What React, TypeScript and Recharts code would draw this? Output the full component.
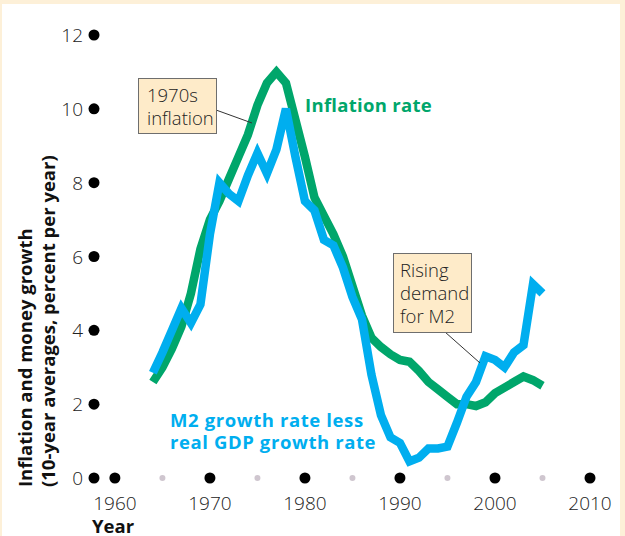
import React from "react";
import { LineChart, Line, XAxis, YAxis } from "recharts";

const years = [
  1964, 1965, 1966, 1967, 1968, 1969, 1970, 1971, 1972, 1973, 1974, 1975, 1976, 1977,
  1978, 1979, 1980, 1981, 1982, 1983, 1984, 1985, 1986, 1987, 1988, 1989, 1990, 1991,
  1992, 1993, 1994, 1995, 1996, 1997, 1998, 1999, 2000, 2001, 2002, 2003, 2004, 2005,
];

const inflationRate = [
  2.6, 3.0, 3.5, 4.1, 5.0, 6.2, 7.0, 7.5, 8.1, 8.7, 9.3, 10.1, 10.7, 11.0,
  10.7, 9.7, 8.7, 7.6, 7.1, 6.6, 6.0, 5.2, 4.4, 3.8, 3.55, 3.35, 3.2, 3.15,
  2.9, 2.6, 2.4, 2.2, 2.0, 2.0, 1.95, 2.05, 2.3, 2.45, 2.6, 2.75, 2.65, 2.5,
];

const m2LessRealGdp = [
  2.85, 3.4, 4.0, 4.6, 4.2, 4.7, 6.6, 8.0, 7.7, 7.5, 8.2, 8.8, 8.25, 8.9,
  10.0, 8.7, 7.5, 7.25, 6.45, 6.3, 5.7, 4.9, 4.3, 2.8, 1.7, 1.1, 0.95, 0.45,
  0.55, 0.8, 0.8, 0.85, 1.5, 2.2, 2.6, 3.3, 3.2, 3.0, 3.4, 3.6, 5.25, 5.0,
];

const yTicks = [0, 2, 4, 6, 8, 10, 12];
const xTicks = [1960, 1965, 1970, 1975, 1980, 1985, 1990, 1995, 2000, 2005, 2010];
const decadeLabels = [1960, 1970, 1980, 1990, 2000, 2010];

const data = years.map((year, i) => ({
  year,
  inflation: inflationRate[i],
  m2: m2LessRealGdp[i],
}));

const GREEN = "#00A66B";
const BLUE = "#00AEEF";
const FONT = "'Open Sans', 'DejaVu Sans', sans-serif";

const YTick = (props: any) => {
  const { x, y, payload } = props;
  return (
    <g>
      <circle cx={x} cy={y} r={5.5} fill="#000" />
      <text x={x - 11} y={y} dy={7} textAnchor="end" fontFamily={FONT} fontWeight={300} fontSize={19} fill="#222">
        {payload.value}
      </text>
    </g>
  );
};

const XTick = (props: any) => {
  const { x, y, payload } = props;
  const isDecade = decadeLabels.includes(payload.value);
  return (
    <g>
      {isDecade ? (
        <circle cx={x} cy={y} r={5.5} fill="#000" />
      ) : (
        <circle cx={x} cy={y} r={3} fill="#CFC6CF" />
      )}
      {isDecade && (
        <text x={x} y={y + 32} textAnchor="middle" fontFamily={FONT} fontWeight={300} fontSize={19} fill="#222">
          {payload.value}
        </text>
      )}
    </g>
  );
};

export default function App() {
  return (
    <div style={{ position: "absolute", left: 0, top: 0, width: 625, height: 536, background: "#FDF0D8", overflow: "hidden" }}>
      <div style={{ position: "absolute", left: 2, top: 4, width: 618, height: 532, background: "#FFFFFF" }} />
      <div style={{ position: "absolute", left: 0, top: 0 }}>
        <LineChart width={625} height={536} data={data} margin={{ top: 35, right: 16, bottom: 0, left: 0 }}>
          <XAxis
            type="number"
            dataKey="year"
            domain={[1957.8, 2012]}
            ticks={xTicks}
            axisLine={false}
            tickLine={false}
            tickSize={0}
            tickMargin={0}
            height={58}
            tick={<XTick />}
            interval={0}
          />
          <YAxis
            type="number"
            domain={[0, 12]}
            ticks={yTicks}
            axisLine={false}
            tickLine={false}
            tickSize={0}
            tickMargin={0}
            width={94}
            tick={<YTick />}
            interval={0}
          />
          <Line
            type="linear"
            dataKey="inflation"
            stroke={GREEN}
            strokeWidth={8.5}
            dot={false}
            activeDot={false}
            strokeLinejoin="miter"
            isAnimationActive={false}
          />
          <Line
            type="linear"
            dataKey="m2"
            stroke={BLUE}
            strokeWidth={8.5}
            dot={false}
            activeDot={false}
            strokeLinejoin="miter"
            isAnimationActive={false}
          />
        </LineChart>
      </div>
      <svg width={625} height={536} style={{ position: "absolute", left: 0, top: 0, pointerEvents: "none" }}>
        {/* Y axis title */}
        <g fontFamily={FONT} fontWeight={700} fontSize={18.5} fill="#111">
          <text transform="translate(32,487) rotate(-90)" textAnchor="start">Inflation and money growth</text>
          <text transform="translate(55,487) rotate(-90)" textAnchor="start">(10-year averages, percent per year)</text>
        </g>
        <text x={92} y={533} fontFamily={FONT} fontWeight={700} fontSize={18.5} fill="#111">Year</text>

        {/* Series labels */}
        <text x={305} y={112} fontFamily={FONT} fontWeight={700} fontSize={18.5} letterSpacing={0.3} fill={GREEN}>Inflation rate</text>
        <g fontFamily={FONT} fontWeight={700} fontSize={18.5} letterSpacing={0.6} fill={BLUE}>
          <text x={170} y={427}>M2 growth rate less</text>
          <text x={170} y={449}>real GDP growth rate</text>
        </g>

        {/* 1970s inflation note */}
        <line x1={216} y1={110} x2={252} y2={123} stroke="#333" strokeWidth={1} />
        <rect x={138.5} y={78.5} width={78} height={55} fill="#FEEBC9" stroke="#6E6E6E" strokeWidth={1} />
        <g fontFamily={FONT} fontWeight={300} fontSize={18.5} fill="#222">
          <text x={147} y={102}>1970s</text>
          <text x={147} y={125}>inflation</text>
        </g>

        {/* Rising demand note */}
        <line x1={445} y1={332} x2={480} y2={363} stroke="#333" strokeWidth={1} />
        <rect x={393.5} y={253.5} width={78} height={79} fill="#FEEBC9" stroke="#6E6E6E" strokeWidth={1} />
        <g fontFamily={FONT} fontWeight={300} fontSize={18.5} fill="#222">
          <text x={400} y={277}>Rising</text>
          <text x={400} y={300}>demand</text>
          <text x={400} y={323}>for M2</text>
        </g>
      </svg>
    </div>
  );
}
